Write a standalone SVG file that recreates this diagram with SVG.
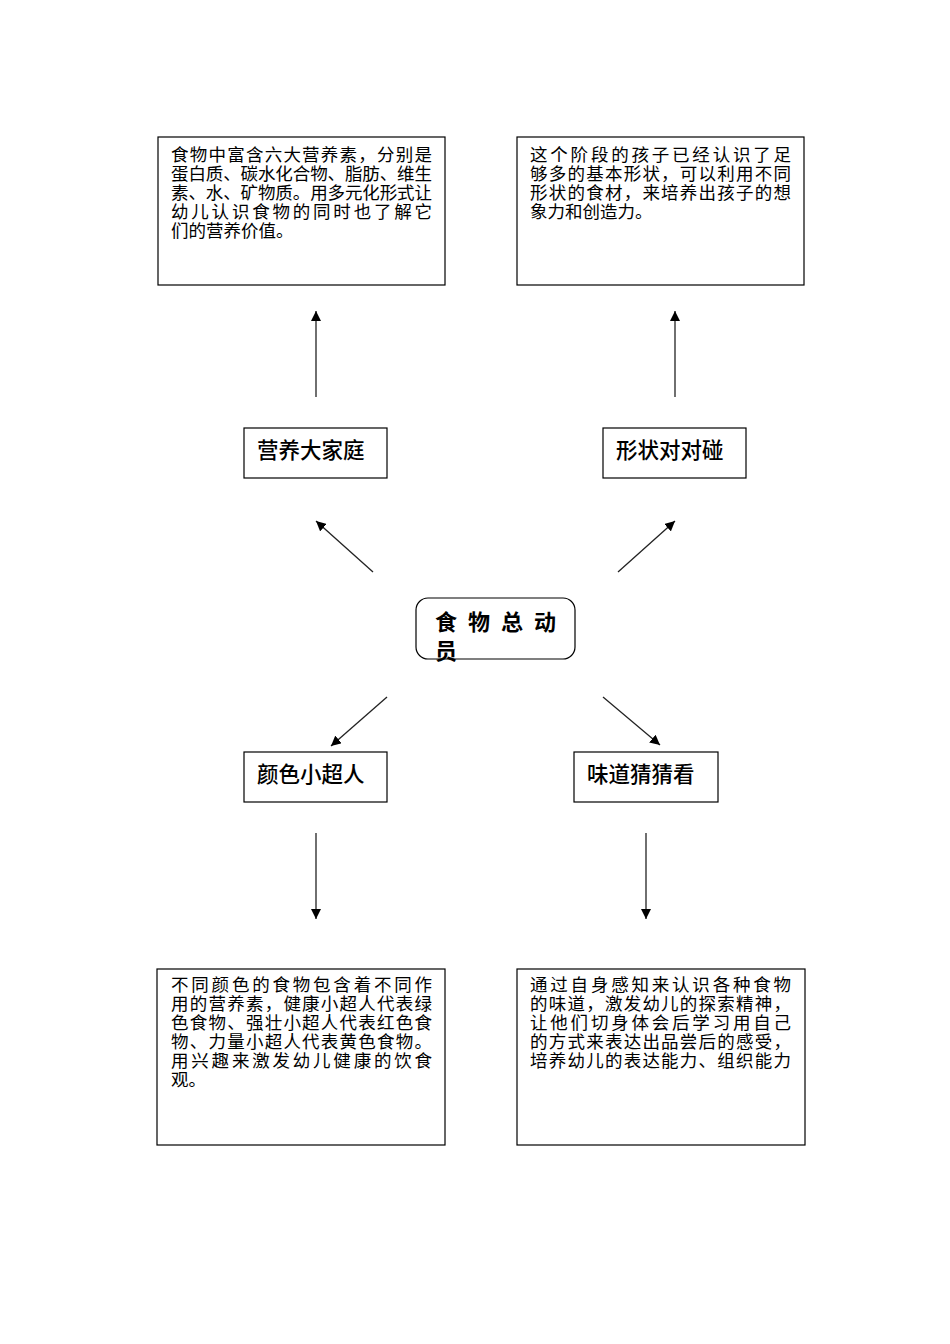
<svg xmlns="http://www.w3.org/2000/svg" width="950" height="1344" viewBox="0 0 950 1344">
<style>
.box{fill:#fff;stroke:#000;stroke-width:1.2}
.para{font-family:"Liberation Serif","Noto Sans CJK SC",serif;font-size:17.5px;fill:#000}
.lbl{font-family:"Liberation Sans","Noto Sans CJK SC",sans-serif;font-size:21.5px;fill:#000;font-weight:500}
.ctr{font-family:"Liberation Sans","Noto Sans CJK SC",sans-serif;font-size:22px;fill:#000;font-weight:bold}
.con{stroke:#222;stroke-width:1.3;fill:none;marker-end:url(#ah)}
</style>
<defs>
<marker id="ah" viewBox="0 0 10 10" refX="10" refY="5" markerWidth="10" markerHeight="10" markerUnits="userSpaceOnUse" orient="auto">
<path d="M0,0 L10,5 L0,10 z" fill="#000"/>
</marker>
</defs>
<rect width="950" height="1344" fill="#fff"/>
<g id="connectors">
<line class="con" x1="316" y1="397" x2="316" y2="311"/>
<line class="con" x1="675" y1="397" x2="675" y2="311"/>
<line class="con" x1="373" y1="572" x2="316" y2="521"/>
<line class="con" x1="618" y1="572" x2="675" y2="521"/>
<line class="con" x1="387" y1="697" x2="331" y2="746"/>
<line class="con" x1="603" y1="697" x2="660" y2="745"/>
<line class="con" x1="316" y1="833" x2="316" y2="919"/>
<line class="con" x1="646" y1="833" x2="646" y2="919"/>
</g>
<g id="node-tl">
<rect class="box" x="158" y="137" width="287" height="148"/>
<text class="para" x="171" y="161" textLength="261" lengthAdjust="spacing">食物中富含六大营养素，分别是</text>
<text class="para" x="171" y="180" textLength="261" lengthAdjust="spacing">蛋白质、碳水化合物、脂肪、维生</text>
<text class="para" x="171" y="199" textLength="261" lengthAdjust="spacing">素、水、矿物质。用多元化形式让</text>
<text class="para" x="171" y="218" textLength="261" lengthAdjust="spacing">幼儿认识食物的同时也了解它</text>
<text class="para" x="171" y="237">们的营养价值。</text>
</g>
<g id="node-tr">
<rect class="box" x="517" y="137" width="287" height="148"/>
<text class="para" x="530" y="161" textLength="261" lengthAdjust="spacing">这个阶段的孩子已经认识了足</text>
<text class="para" x="530" y="180" textLength="261" lengthAdjust="spacing">够多的基本形状，可以利用不同</text>
<text class="para" x="530" y="199" textLength="261" lengthAdjust="spacing">形状的食材，来培养出孩子的想</text>
<text class="para" x="530" y="218">象力和创造力。</text>
</g>
<g id="node-yingyang">
<rect class="box" x="244" y="428" width="143" height="50"/>
<text class="lbl" x="257" y="458">营养大家庭</text>
</g>
<g id="node-xingzhuang">
<rect class="box" x="603" y="428" width="143" height="50"/>
<text class="lbl" x="616" y="458">形状对对碰</text>
</g>
<g id="node-center">
<rect class="box" x="416" y="598" width="159" height="61" rx="12" ry="12"/>
<text class="ctr" x="435 468 501 534" y="630">食物总动</text>
<text class="ctr" x="435" y="659">员</text>
</g>
<g id="node-yanse">
<rect class="box" x="244" y="752" width="143" height="50"/>
<text class="lbl" x="257" y="782">颜色小超人</text>
</g>
<g id="node-weidao">
<rect class="box" x="574" y="752" width="144" height="50"/>
<text class="lbl" x="587" y="782">味道猜猜看</text>
</g>
<g id="node-bl">
<rect class="box" x="157" y="969" width="288" height="176"/>
<text class="para" x="171" y="991" textLength="261" lengthAdjust="spacing">不同颜色的食物包含着不同作</text>
<text class="para" x="171" y="1010" textLength="261" lengthAdjust="spacing">用的营养素，健康小超人代表绿</text>
<text class="para" x="171" y="1029" textLength="261" lengthAdjust="spacing">色食物、强壮小超人代表红色食</text>
<text class="para" x="171" y="1048" textLength="261" lengthAdjust="spacing">物、力量小超人代表黄色食物。</text>
<text class="para" x="171" y="1067" textLength="261" lengthAdjust="spacing">用兴趣来激发幼儿健康的饮食</text>
<text class="para" x="171" y="1086">观。</text>
</g>
<g id="node-br">
<rect class="box" x="517" y="969" width="288" height="176"/>
<text class="para" x="530" y="991" textLength="261" lengthAdjust="spacing">通过自身感知来认识各种食物</text>
<text class="para" x="530" y="1010" textLength="261" lengthAdjust="spacing">的味道，激发幼儿的探索精神，</text>
<text class="para" x="530" y="1029" textLength="261" lengthAdjust="spacing">让他们切身体会后学习用自己</text>
<text class="para" x="530" y="1048" textLength="261" lengthAdjust="spacing">的方式来表达出品尝后的感受，</text>
<text class="para" x="530" y="1067" textLength="261" lengthAdjust="spacing">培养幼儿的表达能力、组织能力</text>
</g>
</svg>
